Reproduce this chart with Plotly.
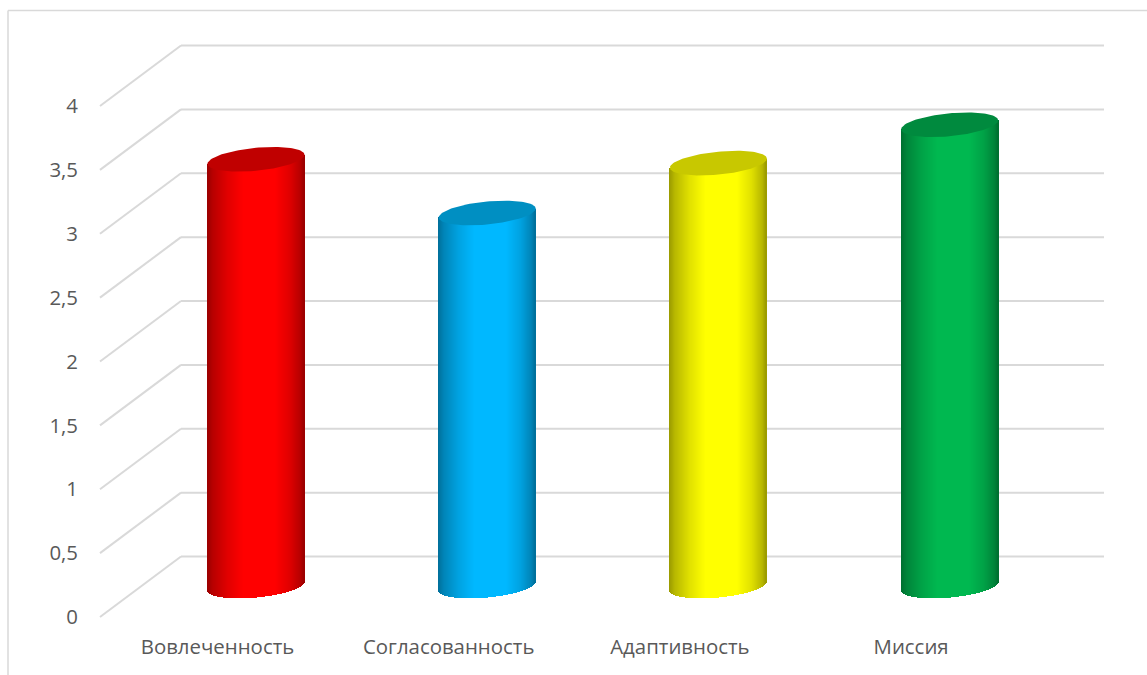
import numpy as np
import plotly.graph_objects as go

categories = ["Вовлеченность", "Согласованность", "Адаптивность", "Миссия"]
values = [3.34, 2.92, 3.31, 3.61]
y_ticks = [0, 0.5, 1, 1.5, 2, 2.5, 3, 3.5, 4]
y_tick_labels = ["0", "0,5", "1", "1,5", "2", "2,5", "3", "3,5", "4"]
body_colors = ["#FF0000", "#00B8FF", "#FFFF00", "#00B850"]
cap_colors = ["#C00000", "#008FC2", "#C8C800", "#008A3E"]

W, H = 1147, 675
L, R, T, B = 83, 0, 20, 42
PX_X = 231.2     # pixels per category
PX_Y = 127.75    # pixels per value unit
X0_PX = 217.5    # pixel of first category label
Y0_PX = 617.0    # pixel of value 0 on the front plane

x_range = [(L - X0_PX) / PX_X, (W - R - X0_PX) / PX_X]
y_range = [(Y0_PX - (H - B)) / PX_Y, (Y0_PX - T) / PX_Y]

DX = 81 / PX_X        # floor depth, in axis units
DY = 60.5 / PX_Y
FRONT_X = -117.5 / PX_X
WALL_END = (1104 - X0_PX) / PX_X
BAR_SHIFT_X = 38.5 / PX_X
BAR_SHIFT_Y = 31 / PX_Y
A = 48.5 / PX_X       # cylinder half width
EB = 11.5 / PX_Y      # ellipse half height
EK = 4.5 / PX_Y       # ellipse tilt

shade_u = [-1, -0.88, -0.58, -0.25, 0.4, 0.7, 0.92, 1]
shade_v = [0.6, 0.72, 0.88, 1, 1, 0.88, 0.72, 0.6]


def shade(hex_color, f):
    r, g, b = int(hex_color[1:3], 16), int(hex_color[3:5], 16), int(hex_color[5:7], 16)
    return f"rgb({round(r * f)},{round(g * f)},{round(b * f)})"


fig = go.Figure()

for i, (val, body, cap) in enumerate(zip(values, body_colors, cap_colors)):
    cx = i + BAR_SHIFT_X
    n = 97
    u = (np.arange(n) + 0.5) / n * 2 - 1
    base = BAR_SHIFT_Y - EB * np.sqrt(1 - u ** 2) + EK * u
    top = BAR_SHIFT_Y + val + EK * u
    fig.add_trace(go.Bar(
        x=cx + u * A,
        y=top - base,
        base=base,
        width=2 * A / n,
        marker=dict(color=[shade(body, f) for f in np.interp(u, shade_u, shade_v)],
                    line=dict(width=0)),
        hoverinfo="skip",
        showlegend=False,
    ))
    t = np.linspace(0, 2 * np.pi, 121)
    fig.add_trace(go.Scatter(
        x=cx + A * np.cos(t),
        y=BAR_SHIFT_Y + val + EB * np.sin(t) + EK * np.cos(t),
        mode="lines",
        fill="toself",
        fillcolor=cap,
        line=dict(width=0, color=cap),
        hoverinfo="skip",
        showlegend=False,
    ))

grid = dict(color="#D9D9D9", width=2)
shapes = []
for v in y_ticks:
    shapes.append(dict(type="line", xref="x", yref="y", layer="below", line=grid,
                       x0=FRONT_X, y0=v, x1=FRONT_X + DX, y1=v + DY))
    shapes.append(dict(type="line", xref="x", yref="y", layer="below", line=grid,
                       x0=FRONT_X + DX, y0=v + DY, x1=WALL_END, y1=v + DY))

# outer chart frame (top and left edges)
fx = (8 - L) / (W - L - R)
fy = 1 - (10.5 - T) / (H - T - B)
fb = 1 - (H - T) / (H - T - B)
fr = 1
shapes.append(dict(type="line", xref="paper", yref="paper", layer="below",
                   line=dict(color="#D9D9D9", width=1.5), x0=fx, y0=fy, x1=fx, y1=fb))
shapes.append(dict(type="line", xref="paper", yref="paper", layer="below",
                   line=dict(color="#D9D9D9", width=1.5), x0=fx, y0=fy, x1=fr, y1=fy))

font = dict(family="Open Sans, sans-serif", size=20.4, color="#595959")
fig.update_layout(
    width=W, height=H, autosize=False,
    margin=dict(l=L, r=R, t=T, b=B, pad=0),
    paper_bgcolor="white", plot_bgcolor="white",
    barmode="overlay", bargap=0, showlegend=False,
    shapes=shapes,
    xaxis=dict(range=x_range, tickmode="array", tickvals=list(range(len(categories))),
               ticktext=categories, showgrid=False, zeroline=False, showline=False,
               ticks="", tickfont=font, fixedrange=True),
    yaxis=dict(range=y_range, tickmode="array", tickvals=y_ticks, ticktext=y_tick_labels,
               showgrid=False, zeroline=False, showline=False, ticks="", tickfont=font,
               ticklabelstandoff=4, fixedrange=True),
)

fig.write_html("out.html", post_script="document.body.style.margin='0';",
               config={"displayModeBar": False})
